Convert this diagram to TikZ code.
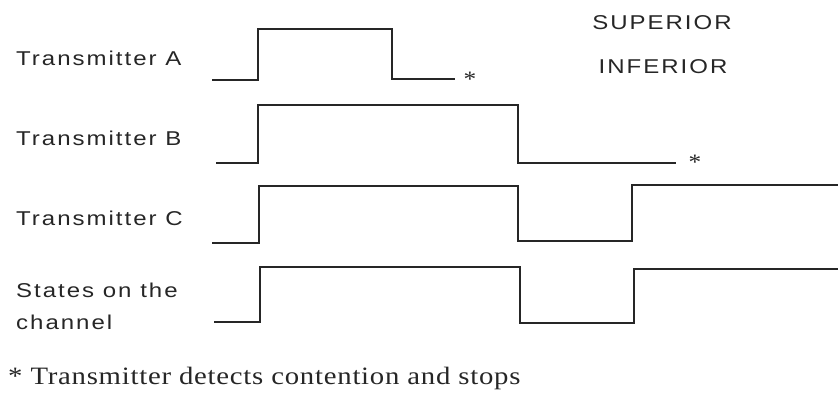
\documentclass[tikz,border=0pt]{standalone}
\usepackage{fontspec}
\newfontfamily\lblfont[FakeStretch=1.2,LetterSpace=10]{Liberation Sans}
\newfontfamily\notefont[FakeStretch=1.15,LetterSpace=3]{Liberation Serif}
\begin{document}
\begin{tikzpicture}[x=1pt,y=-1pt,
  wave/.style={draw=black!85,line width=1.6pt,line join=miter},
  lbl/.style={anchor=west,inner sep=0pt,font=\lblfont\fontsize{20}{32}\selectfont,text=black!85},
  ctr/.style={inner sep=0pt,font=\lblfont\fontsize{20}{24}\selectfont,text=black!85},
  note/.style={anchor=west,inner sep=0pt,font=\notefont\fontsize{25}{30}\selectfont,text=black!85},
  star/.style={inner sep=0pt,font=\notefont\fontsize{22}{26}\selectfont,text=black!85}]
\useasboundingbox (0,0) rectangle (838,396);
% labels
\node[lbl] (la) at (16,58) {Transmitter A};
\node[lbl] (lb) at (16,138) {Transmitter B};
\node[lbl] (lc) at (16,218) {Transmitter C};
\node[lbl,align=left] (ls) at (16,306) {States on the\\channel};
\node[ctr] (sup) at (662,23) {SUPERIOR};
\node[ctr] (inf) at (663,67) {INFERIOR};
\node[note] (fn) at (8,378) {* Transmitter detects contention and stops};
% waveforms
\draw[wave] (212,80) -- (258,80) -- (258,29) -- (392,29) -- (392,79) -- (455,79);
\node[star] (sa) at (470,79) {*};
\draw[wave] (216,163) -- (258,163) -- (258,105) -- (518,105) -- (518,163) -- (676,163);
\node[star] (sb) at (695,162) {*};
\draw[wave] (212,243) -- (259,243) -- (259,186) -- (518,186) -- (518,241) -- (632,241) -- (632,185) -- (838,185);
\draw[wave] (214,322) -- (260,322) -- (260,267) -- (520,267) -- (520,323) -- (634,323) -- (634,269) -- (838,269);
\end{tikzpicture}
\end{document}
